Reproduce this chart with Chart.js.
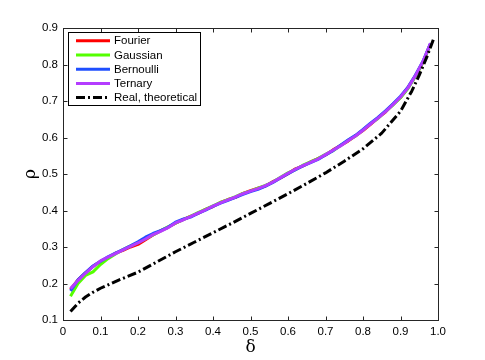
<!DOCTYPE html>
<html>
<head>
<meta charset="utf-8">
<script src="https://cdn.jsdelivr.net/npm/chart.js@4.4.1/dist/chart.umd.min.js"></script>
<style>
  html, body { margin: 0; padding: 0; background: #fff; }
  #wrap { width: 485px; height: 360px; position: relative; }
</style>
</head>
<body>
<div id="wrap"><canvas id="c" width="485" height="360"></canvas></div>
<script>
const delta = [0.02,0.04,0.06,0.08,0.10,0.12,0.14,0.16,0.18,0.20,0.22,0.24,0.26,0.28,0.30,0.32,0.34,0.36,0.38,0.40,0.42,0.44,0.46,0.48,0.50,0.52,0.54,0.56,0.58,0.60,0.62,0.64,0.66,0.68,0.70,0.72,0.74,0.76,0.78,0.80,0.82,0.84,0.86,0.88,0.90,0.92,0.94,0.96,0.98];
const fourier   = [0.184,0.210,0.229,0.247,0.260,0.271,0.283,0.291,0.300,0.307,0.320,0.333,0.344,0.354,0.365,0.375,0.384,0.392,0.403,0.411,0.422,0.430,0.436,0.447,0.454,0.461,0.467,0.479,0.489,0.501,0.514,0.522,0.533,0.542,0.552,0.566,0.578,0.590,0.605,0.619,0.636,0.654,0.670,0.691,0.710,0.737,0.769,0.806,0.857];
const gaussian  = [0.165,0.200,0.222,0.232,0.252,0.268,0.281,0.293,0.303,0.312,0.323,0.333,0.344,0.355,0.365,0.375,0.384,0.394,0.403,0.413,0.422,0.430,0.438,0.447,0.453,0.461,0.469,0.478,0.491,0.503,0.512,0.524,0.533,0.542,0.554,0.564,0.578,0.592,0.604,0.621,0.638,0.652,0.672,0.689,0.709,0.734,0.768,0.806,0.856];
const bernoulli = [0.180,0.210,0.230,0.248,0.261,0.273,0.283,0.293,0.303,0.314,0.327,0.337,0.345,0.354,0.368,0.376,0.382,0.392,0.401,0.411,0.420,0.428,0.436,0.444,0.452,0.458,0.467,0.477,0.489,0.501,0.512,0.522,0.531,0.540,0.552,0.564,0.579,0.593,0.606,0.622,0.639,0.655,0.673,0.692,0.713,0.738,0.771,0.809,0.858];
const ternary   = [0.186,0.208,0.228,0.246,0.262,0.272,0.282,0.292,0.302,0.311,0.322,0.334,0.343,0.353,0.366,0.374,0.383,0.393,0.402,0.412,0.421,0.429,0.437,0.446,0.453,0.460,0.468,0.478,0.490,0.502,0.513,0.523,0.532,0.541,0.553,0.565,0.577,0.591,0.604,0.620,0.637,0.653,0.671,0.690,0.711,0.736,0.770,0.808,0.858];
const deltaTheory = [0.02,0.04,0.06,0.08,0.10,0.15,0.20,0.25,0.30,0.35,0.40,0.45,0.50,0.55,0.60,0.65,0.70,0.75,0.80,0.85,0.90,0.93,0.95,0.97,0.99];
const rhoTheory   = [0.123,0.146,0.163,0.176,0.187,0.210,0.231,0.259,0.287,0.313,0.339,0.365,0.392,0.419,0.446,0.474,0.503,0.535,0.569,0.612,0.672,0.727,0.771,0.820,0.875];
const seriesLabels = ['Fourier','Gaussian','Bernoulli','Ternary','Real, theoretical'];
const xTitle = 'δ';
const yTitle = 'ρ';

const pts = (xs, ys) => xs.map((x, i) => ({x: x, y: ys[i]}));
const colors = ['#ff0000', '#55ff00', '#1f4fff', '#b43cff', '#000000'];
const FONT = '"Liberation Sans", Arial, Helvetica, sans-serif';

function lineDs(label, data, color, order, dash) {
  return {
    label: label, data: data, borderColor: color, backgroundColor: color,
    borderWidth: 3, pointRadius: 0, tension: 0, fill: false, order: order,
    borderDash: dash || [], borderCapStyle: 'butt', borderJoinStyle: 'round'
  };
}

const decor = {
  id: 'decor',
  afterDraw(chart) {
    const ctx = chart.ctx, a = chart.chartArea, xs = chart.scales.x, ys = chart.scales.y;
    ctx.save();
    ctx.strokeStyle = '#262626';
    ctx.lineWidth = 1;
    const L = Math.round(a.left) + 0.5, R = Math.round(a.right) + 0.5;
    const T = Math.round(a.top) + 0.5, B = Math.round(a.bottom) + 0.5;
    ctx.strokeRect(L, T, R - L, B - T);
    ctx.beginPath();
    xs.ticks.forEach(t => {
      const p = Math.round(xs.getPixelForValue(t.value)) + 0.5;
      ctx.moveTo(p, B); ctx.lineTo(p, B - 4);
      ctx.moveTo(p, T); ctx.lineTo(p, T + 4);
    });
    ys.ticks.forEach(t => {
      const p = Math.round(ys.getPixelForValue(t.value)) + 0.5;
      ctx.moveTo(L, p); ctx.lineTo(L + 4, p);
      ctx.moveTo(R, p); ctx.lineTo(R - 4, p);
    });
    ctx.stroke();

    // axis titles
    ctx.fillStyle = '#000';
    ctx.font = '17px "DejaVu Serif", "Liberation Serif", serif';
    ctx.textAlign = 'center';
    ctx.textBaseline = 'middle';
    ctx.fillText(xTitle, (a.left + a.right) / 2, 348);
    ctx.save();
    ctx.translate(31, (a.top + a.bottom) / 2);
    ctx.rotate(-Math.PI / 2);
    ctx.fillText(yTitle, 0, 0);
    ctx.restore();

    // legend
    const bx = 68.5, by = 32.5, bw = 132, bh = 73;
    ctx.fillStyle = '#fff';
    ctx.fillRect(bx, by, bw, bh);
    ctx.strokeStyle = '#000';
    ctx.lineWidth = 1;
    ctx.strokeRect(bx, by, bw, bh);
    ctx.font = '11.5px ' + FONT;
    ctx.textAlign = 'left';
    ctx.textBaseline = 'middle';
    chart.data.datasets.forEach((ds, i) => {
      const yy = 40.8 + i * 14.2;
      ctx.strokeStyle = ds.borderColor;
      ctx.lineWidth = 3;
      ctx.setLineDash(ds.borderDash || []);
      ctx.beginPath();
      ctx.moveTo(76, yy); ctx.lineTo(110, yy);
      ctx.stroke();
      ctx.setLineDash([]);
      ctx.fillStyle = '#000';
      ctx.fillText(ds.label, 114, yy + 0.5);
    });
    ctx.restore();
  }
};

new Chart(document.getElementById('c'), {
  type: 'line',
  data: {
    datasets: [
      lineDs(seriesLabels[0], pts(delta, fourier), colors[0], 5),
      lineDs(seriesLabels[1], pts(delta, gaussian), colors[1], 4),
      lineDs(seriesLabels[2], pts(delta, bernoulli), colors[2], 3),
      lineDs(seriesLabels[3], pts(delta, ternary), colors[3], 2),
      lineDs(seriesLabels[4], pts(deltaTheory, rhoTheory), colors[4], 1, [9, 3, 2, 3])
    ]
  },
  options: {
    responsive: false,
    animation: false,
    devicePixelRatio: 1,
    layout: { padding: { left: 0, right: 47, top: 28, bottom: 0 } },
    plugins: { legend: { display: false }, tooltip: { enabled: false } },
    scales: {
      x: {
        type: 'linear', min: 0, max: 1,
        grid: { display: false, drawTicks: false },
        border: { display: false },
        afterFit: s => { s.height = 40; },
        ticks: { stepSize: 0.1, padding: 5, color: '#000', maxRotation: 0, autoSkip: false,
                 font: { family: FONT, size: 11.5 } }
      },
      y: {
        type: 'linear', min: 0.1, max: 0.9,
        grid: { display: false, drawTicks: false },
        border: { display: false },
        afterFit: s => { s.width = 63; },
        ticks: { stepSize: 0.1, padding: 5, color: '#000', autoSkip: false,
                 font: { family: FONT, size: 11.5 } }
      }
    }
  },
  plugins: [decor]
});
</script>
</body>
</html>
